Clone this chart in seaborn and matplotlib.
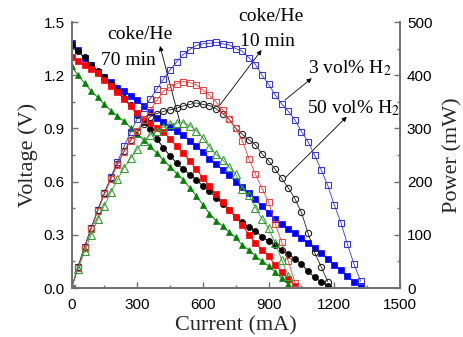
import matplotlib
matplotlib.use('Agg')
import matplotlib.pyplot as plt
import seaborn as sns
from matplotlib.ticker import MultipleLocator, FormatStrFormatter

# ---------------- data ----------------
current = [0, 30, 60, 90, 120, 150, 180, 210, 240, 270, 300, 330, 360, 390, 420,
           450, 480, 510, 540, 570, 600, 630, 660, 690, 720, 750, 780, 810, 840,
           870, 900, 930, 960, 990, 1020, 1050, 1080, 1110, 1140, 1170, 1200,
           1230, 1260, 1290, 1320]

# 3 vol% H2 (blue)
v_h2_3 = [1.38, 1.34, 1.295, 1.255, 1.22, 1.19, 1.16, 1.13, 1.11, 1.085,
          1.06, 1.025, 0.99, 0.96, 0.935, 0.91, 0.885, 0.86, 0.83, 0.80,
          0.765, 0.73, 0.70, 0.665, 0.635, 0.60, 0.57, 0.535, 0.50, 0.46,
          0.425, 0.39, 0.36, 0.335, 0.31, 0.28, 0.255, 0.225, 0.195, 0.165,
          0.13, 0.10, 0.065, 0.035, 0.01]
p_h2_3 = [0, 40, 78, 113, 146, 178, 209, 237, 266, 293,
          318, 338, 356, 374, 393, 410, 425, 439, 448, 456,
          459, 460, 462, 459, 457, 450, 445, 433, 420, 400,
          383, 363, 346, 332, 316, 294, 275, 250, 222, 193,
          156, 123, 82, 45, 13]

# 50 vol% H2 (black)
v_h2_50 = [1.37, 1.335, 1.30, 1.26, 1.225, 1.19, 1.15, 1.11, 1.07, 1.03,
           0.975, 0.935, 0.895, 0.84, 0.79, 0.745, 0.705, 0.67, 0.64, 0.61,
           0.575, 0.545, 0.51, 0.475, 0.44, 0.40, 0.37, 0.345, 0.32, 0.29,
           0.265, 0.24, 0.215, 0.19, 0.165, 0.135, 0.095, 0.06, 0.035, 0.01]
p_h2_50 = [0, 40, 78, 113, 147, 178, 207, 233, 257, 278,
           293, 309, 322, 328, 332, 335, 338, 342, 345, 348,
           345, 343, 337, 328, 317, 300, 289, 279, 269, 252,
           239, 223, 206, 188, 168, 142, 103, 67, 40, 12]

# coke/He 10 min (red)
v_coke10 = [1.30, 1.28, 1.255, 1.235, 1.21, 1.175, 1.14, 1.105, 1.065, 1.025,
            0.985, 0.955, 0.93, 0.905, 0.88, 0.84, 0.80, 0.76, 0.715, 0.67,
            0.62, 0.575, 0.53, 0.485, 0.44, 0.40, 0.355, 0.30, 0.255, 0.215,
            0.18, 0.13, 0.09, 0.05, 0.01]
p_coke10 = [0, 38, 75, 111, 145, 176, 205, 232, 256, 277,
            296, 315, 335, 353, 370, 378, 384, 388, 386, 382,
            372, 362, 350, 335, 317, 300, 277, 243, 214, 187,
            162, 121, 86, 50, 10]

# coke/He 70 min (green)
v_coke70 = [1.25, 1.20, 1.155, 1.11, 1.075, 1.035, 1.00, 0.97, 0.94, 0.905,
            0.87, 0.835, 0.80, 0.76, 0.72, 0.685, 0.645, 0.61, 0.565, 0.52,
            0.47, 0.42, 0.38, 0.35, 0.315, 0.285, 0.24, 0.215, 0.18, 0.15,
            0.125, 0.09, 0.055, 0.022]
p_coke70 = [0, 36, 69, 100, 129, 155, 180, 204, 226, 244,
            261, 276, 288, 296, 302, 308, 310, 311, 305, 296,
            282, 265, 251, 241, 227, 214, 187, 174, 151, 130,
            112, 84, 53, 22]

x_ticks = [0, 300, 600, 900, 1200, 1500]

# ---------------- style ----------------
sns.set_style('ticks')
plt.rcParams['font.family'] = ['Liberation Sans', 'DejaVu Sans']
plt.rcParams['mathtext.fontset'] = 'stix'
SERIF = ['Liberation Serif', 'DejaVu Serif']
SPINE = '#707070'

fig = plt.figure(figsize=(4.63, 3.37), dpi=100)
ax = fig.add_axes([71.5 / 463, 49 / 337, 328.5 / 463, 266 / 337])
ax2 = ax.twinx()

series = [
    (v_h2_3, p_h2_3, 's', '#0000FF', '#3838C8'),
    (v_h2_50, p_h2_50, 'o', '#000000', '#202020'),
    (v_coke10, p_coke10, 's', '#FF0000', '#E04848'),
    (v_coke70, p_coke70, '^', '#008000', '#3A9A3A'),
]

for v, p, mk, cf, co in series:
    n = len(v)
    sns.lineplot(x=current[:n], y=v, ax=ax, color=cf, marker=mk,
                 markersize=4.4 if mk != '^' else 5.0, mfc=cf, mec=cf,
                 mew=0.5, lw=0.7, sort=False, legend=False)
    sns.lineplot(x=current[:n], y=p, ax=ax2, color=co, marker=mk,
                 markersize=4.5 if mk != '^' else 5.2, mfc='none', mec=co,
                 mew=0.8, lw=0.6, sort=False, legend=False)

# ---------------- axes ----------------
ax.set_xlim(0, 1500)
ax.set_ylim(0, 1.5)
ax2.set_ylim(0, 500)
ax.set_xticks(x_ticks)
ax.xaxis.set_minor_locator(MultipleLocator(150))
ax.yaxis.set_major_locator(MultipleLocator(0.3))
ax.yaxis.set_minor_locator(MultipleLocator(0.15))
ax.yaxis.set_major_formatter(FormatStrFormatter('%.1f'))
ax2.yaxis.set_major_locator(MultipleLocator(100))
ax2.yaxis.set_minor_locator(MultipleLocator(50))

for a in (ax, ax2):
    a.spines['top'].set_visible(False)
    for s in ('left', 'right', 'bottom'):
        a.spines[s].set_color(SPINE)
        a.spines[s].set_linewidth(1.3)
    a.tick_params(which='both', direction='in', color=SPINE, labelcolor='black',
                  labelsize=11, width=1)
    a.tick_params(which='major', length=4)
    a.tick_params(which='minor', length=2.5)
ax.tick_params(axis='x', pad=7)
ax.tick_params(axis='y', pad=5)
ax2.tick_params(axis='y', pad=5)

ax.set_xlabel('Current (mA)', fontsize=16, family=SERIF, labelpad=3)
ax.set_ylabel('Voltage (V)', fontsize=16, family=SERIF, labelpad=4)
ax2.set_ylabel('Power (mW)', fontsize=16, family=SERIF, labelpad=8)

# ---------------- annotations ----------------
tk = dict(fontsize=14, family=SERIF, color='black')
ax.text(310, 1.403, 'coke/He', ha='center', va='baseline', **tk)
ax.text(258, 1.258, '70 min', ha='center', va='baseline', **tk)
ax.text(911, 1.508, 'coke/He', ha='center', va='baseline', **tk)
ax.text(893, 1.365, '10 min', ha='center', va='baseline', **tk)
ax.text(1080, 1.211, '3 vol% H$_2$', ha='left', va='baseline', **tk)
ax.text(1075, 0.985, '50 vol% H$_2$', ha='left', va='baseline', **tk)

arr = dict(arrowstyle='-|>', color='black', lw=0.6, mutation_scale=7,
           shrinkA=0, shrinkB=0)
ax.annotate('', xy=(404, 1.365), xytext=(495, 0.936), arrowprops=arr)
ax.annotate('', xy=(868, 1.342), xytext=(678, 1.032), arrowprops=arr)
ax.annotate('', xy=(1097, 1.183), xytext=(975, 1.06), arrowprops=arr)
ax.annotate('', xy=(1257, 0.966), xytext=(975, 0.62), arrowprops=arr)

fig.savefig('out.png', dpi=100)
